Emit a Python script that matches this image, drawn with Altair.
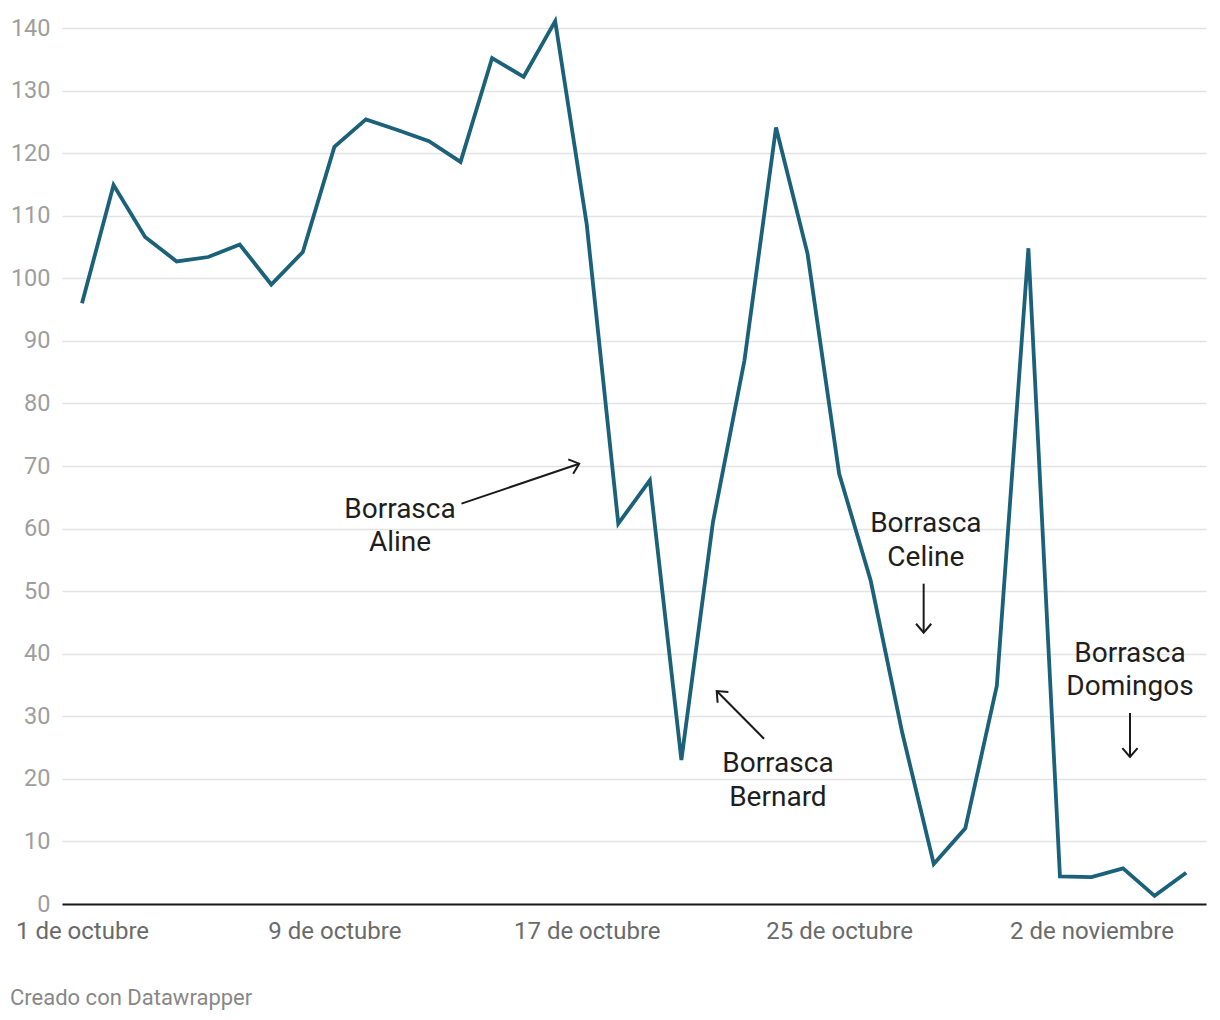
import altair as alt
import pandas as pd

# ---- data -------------------------------------------------------------
dias = list(range(36))  # 1 oct 2023 ... 5 nov 2023
valores = [96.0, 114.9, 106.6, 102.7, 103.4, 105.4, 99.0, 104.2, 121.0, 125.4,
           123.7, 121.9, 118.6, 135.2, 132.2, 141.1, 108.6, 60.8, 67.7, 23.0,
           61.0, 86.9, 124.1, 103.9, 68.8, 51.7, 27.4, 6.4, 12.1, 34.9,
           104.8, 4.4, 4.3, 5.7, 1.3, 5.0]

tick_values = [0, 8, 16, 24, 32]
tick_labels = ["1 de octubre", "9 de octubre", "17 de octubre", "25 de octubre", "2 de noviembre"]
y_ticks = [0, 10, 20, 30, 40, 50, 60, 70, 80, 90, 100, 110, 120, 130, 140]

ann_text = ["Borrasca\nAline", "Borrasca\nBernard", "Borrasca\nCeline", "Borrasca\nDomingos"]
ann_x = [10.08, 22.06, 26.75, 33.22]
ann_y = [62.97, 22.37, 60.73, 39.96]

arr_x = [12.03, 21.62, 26.68, 33.22]
arr_y = [63.98, 26.42, 51.19, 30.53]
arr_x2 = [15.76, 20.12, 26.68, 33.22]
arr_y2 = [70.37, 34.04, 43.36, 23.49]
arr_angle = [341.2, 225.2, 90, 90]

footer = "Creado con Datawrapper"

# ---- styling ----------------------------------------------------------
LINE = "#1a6179"
FONT = "Roboto"

df = pd.DataFrame({"dia": dias, "valor": valores})
ann = pd.DataFrame({"t": ann_text, "x": ann_x, "y": ann_y})
arr = pd.DataFrame({"x": arr_x, "y": arr_y, "x2": arr_x2, "y2": arr_y2, "ang": arr_angle})
foot = pd.DataFrame({"t": [footer]})

label_expr = " : ".join(
    [f"datum.value == {v} ? '{l}'" for v, l in zip(tick_values, tick_labels)]
) + " : ''"

xscale = alt.Scale(domain=[-0.634, 35.63], nice=False, zero=False)
yscale = alt.Scale(domain=[0, 140], nice=False, zero=True)

xaxis = alt.Axis(values=tick_values, labelExpr=label_expr, title=None, grid=False,
                 domain=True, domainColor="#1a1a1a", domainWidth=2, ticks=False, tickSize=0,
                 labelPadding=15, labelFontSize=24, labelColor="#6a6a6a", labelFont=FONT,
                 labelFlush=False, labelOverlap=False)
yaxis = alt.Axis(values=y_ticks, title=None, grid=True, gridColor="#e3e3e3", gridWidth=1.5,
                 domain=False, ticks=False, tickSize=0, labelPadding=12, labelFontSize=23.5,
                 labelColor="#9e9e9e", labelFont=FONT, labelAlign="right", labelBaseline="middle")

line = alt.Chart(df).mark_line(color=LINE, strokeWidth=3.8, strokeJoin="miter").encode(
    x=alt.X("dia:Q", scale=xscale, axis=xaxis),
    y=alt.Y("valor:Q", scale=yscale, axis=yaxis),
)

arrows = alt.Chart(arr).mark_rule(color="#1a1a1a", strokeWidth=2).encode(
    x=alt.X("x:Q", scale=xscale), y=alt.Y("y:Q", scale=yscale),
    x2="x2:Q", y2="y2:Q",
)

heads = alt.Chart(arr).mark_point(
    shape="M -1 -0.85 L 0 0 L -1 0.85", filled=False, stroke="#1a1a1a",
    strokeWidth=2, size=320, opacity=1, strokeJoin="miter"
).encode(
    x=alt.X("x2:Q", scale=xscale), y=alt.Y("y2:Q", scale=yscale),
    angle=alt.Angle("ang:Q", scale=None),
)

texts = alt.Chart(ann).mark_text(
    font=FONT, fontSize=28, color="#1e1e1e", align="center", baseline="middle",
    lineBreak="\n", lineHeight=33.5
).encode(
    x=alt.X("x:Q", scale=xscale), y=alt.Y("y:Q", scale=yscale), text="t:N",
)

foot_t = alt.Chart(foot).mark_text(
    font=FONT, fontSize=22, color="#888888", align="left", baseline="alphabetic"
).encode(x=alt.value(-52), y=alt.value(977), text="t:N")

chart = alt.layer(line, arrows, heads, texts, foot_t).properties(
    width=1144, height=876,
    padding={"left": 62, "top": 28, "right": 14, "bottom": 116},
    autosize=alt.AutoSizeParams(type="none"),
    background="white",
).configure(font=FONT).configure_view(stroke=None)

chart.save("out.html", embed_options={"renderer": "svg", "actions": False})
